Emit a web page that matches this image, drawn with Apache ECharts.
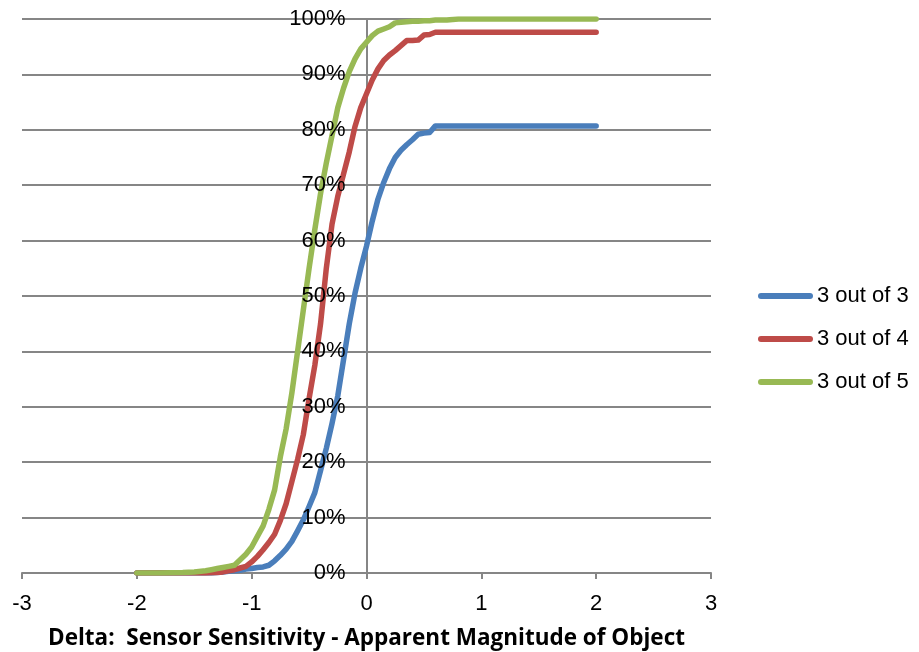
<!DOCTYPE html>
<html>
<head>
<meta charset="utf-8">
<script src="https://cdn.jsdelivr.net/npm/echarts@6/dist/echarts.min.js"></script>
<style>
html, body { margin: 0; padding: 0; background: #fff; }
#chart { width: 919px; height: 652px; }
</style>
</head>
<body>
<div id="chart"></div>
<script>
// Delta (x) sample points
const deltas = [
  -2.0, -1.8, -1.6, -1.5, -1.4, -1.35, -1.3, -1.25, -1.2, -1.15, -1.1, -1.05, -1.0,
  -0.95, -0.9, -0.85, -0.8, -0.75, -0.7, -0.65, -0.6, -0.55, -0.5,
  -0.45, -0.4, -0.35, -0.3, -0.25, -0.2, -0.15, -0.1, -0.05, 0,
  0.05, 0.1, 0.15, 0.2, 0.25, 0.3, 0.35, 0.4, 0.45, 0.5,
  0.55, 0.6, 0.65, 0.7, 0.75, 0.8, 1.0, 1.5, 2.0
]
// detection probability, %
const outOf3 = [
  0, 0, 0, 0, 0, 0, 0.1, 0.2, 0.3, 0.4, 0.5, 0.7, 0.8,
  1.0, 1.1, 1.4, 2.2, 3.2, 4.3, 5.7, 7.6, 9.6, 12.0,
  14.5, 18.5, 22.5, 27, 32, 38.5, 45, 50.5, 55, 59,
  63.5, 67.5, 70.5, 73, 75, 76.3, 77.3, 78.2, 79.2, 79.4,
  79.5, 80.7, 80.7, 80.7, 80.7, 80.7, 80.7, 80.7, 80.7
]
const outOf4 = [
  0, 0, 0, 0, 0, 0.05, 0.1, 0.2, 0.4, 0.6, 0.9, 1.2, 2.0,
  3.0, 4.2, 5.5, 7.0, 9.5, 12.5, 16.5, 20.5, 25, 31.5,
  37.5, 45, 55, 63, 68, 72, 76, 80.6, 84, 86.5,
  89, 91, 92.5, 93.5, 94.3, 95.2, 96.1, 96.1, 96.2, 97.1,
  97.2, 97.6, 97.6, 97.6, 97.6, 97.6, 97.6, 97.6, 97.6
]
const outOf5 = [
  0, 0, 0.1, 0.2, 0.4, 0.6, 0.8, 1.0, 1.2, 1.4, 2.4, 3.4, 4.7,
  6.6, 8.5, 11.5, 15, 21, 26, 32.5, 40, 47.5, 55,
  62, 68.5, 74, 79, 84, 87.5, 90.5, 92.8, 94.6, 95.8,
  97, 97.8, 98.2, 98.6, 99.3, 99.4, 99.5, 99.6, 99.6, 99.7,
  99.7, 99.8, 99.8, 99.8, 99.9, 100, 100, 100, 100
]
const seriesNames = ['3 out of 3', '3 out of 4', '3 out of 5']
const seriesValues = [outOf3, outOf4, outOf5]
const colors = ['#4A7EBB', '#BE4B48', '#98B954']

const gridColor = '#868686'
const arial = 'Liberation Sans, Arial, sans-serif'
const chart = echarts.init(document.getElementById('chart'))

const series = seriesValues.map((vals, i) => ({
  type: 'line',
  name: seriesNames[i],
  data: deltas.map((d, j) => [d, vals[j]]),
  showSymbol: false,
  symbol: 'none',
  lineStyle: { width: 5.5, color: colors[i], cap: 'round', join: 'round' },
  itemStyle: { color: colors[i] }
}))

chart.setOption({
  animation: false,
  color: colors,
  grid: { left: 22, right: 208, top: 19, bottom: 79, outerBoundsMode: 'none' },
  legend: {
    orient: 'vertical',
    left: 758,
    top: 285,
    padding: 0,
    icon: 'path://M3,0 L52,0 A3,3 0 0 1 52,6 L3,6 A3,3 0 0 1 3,0 Z',
    itemWidth: 55,
    itemHeight: 6,
    itemGap: 21,
    textStyle: { fontSize: 22, color: '#000', fontFamily: arial, padding: [0, 0, 0, -1] },
    data: seriesNames
  },
  xAxis: {
    type: 'value',
    min: -3,
    max: 3,
    interval: 1,
    name: 'Delta:  Sensor Sensitivity - Apparent Magnitude of Object',
    nameLocation: 'middle',
    nameGap: 54,
    nameTextStyle: { fontSize: 22.5, fontWeight: 'bold', color: '#000', fontFamily: 'Open Sans, sans-serif' },
    axisLine: { onZero: false, lineStyle: { color: gridColor, width: 2 } },
    axisTick: { show: true, length: 6, lineStyle: { color: gridColor, width: 2 } },
    axisLabel: { fontSize: 22, color: '#000', margin: 20, fontFamily: arial },
    splitLine: { show: false }
  },
  yAxis: [
    {
      // vertical line at delta 0 and horizontal gridlines, under the series
      type: 'value',
      min: 0,
      max: 100,
      interval: 10,
      offset: -344.5,
      axisLine: { show: true, onZero: false, lineStyle: { color: gridColor, width: 2 } },
      axisTick: { show: false },
      axisLabel: { show: false },
      splitLine: { show: true, lineStyle: { color: gridColor, width: 2 } }
    },
    {
      // percent labels, drawn over the series
      type: 'value',
      position: 'left',
      min: 0,
      max: 100,
      interval: 10,
      offset: -344.5,
      z: 5,
      axisLine: { show: false },
      axisTick: { show: false },
      axisLabel: { formatter: '{value}%', fontSize: 22, color: '#000', margin: 21, fontFamily: arial },
      splitLine: { show: false }
    }
  ],
  series: series
})
</script>
</body>
</html>
